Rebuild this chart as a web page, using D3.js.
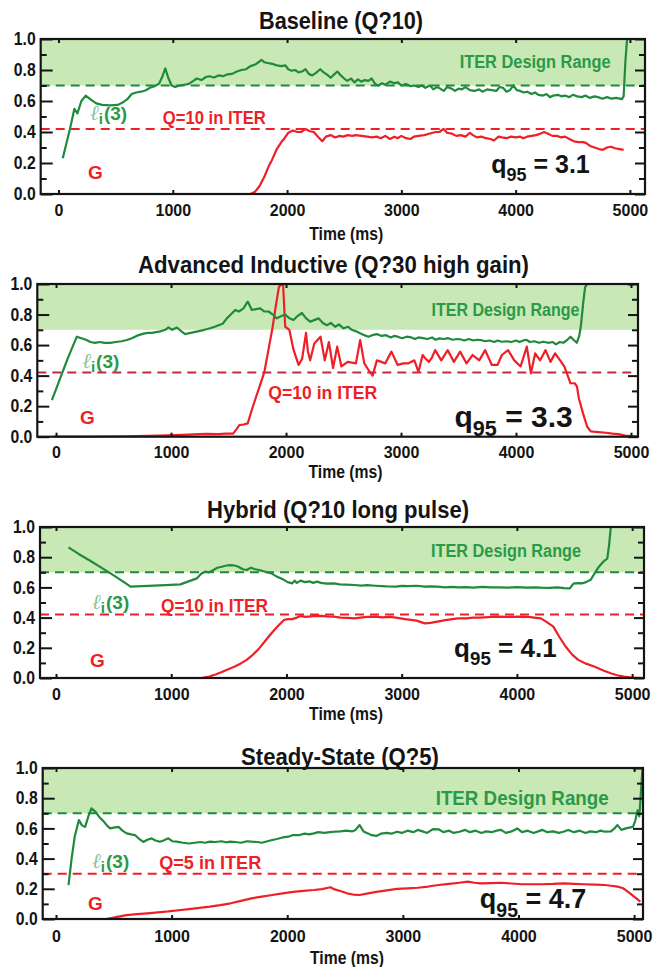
<!DOCTYPE html>
<html>
<head>
<meta charset="utf-8">
<script src="https://cdn.jsdelivr.net/npm/d3@7"></script>
<style>
  body { margin: 0; background: #fff; }
  svg { display: block; }
  text { font-family: "Liberation Sans", Arial, "Helvetica", sans-serif; font-weight: bold; }
</style>
</head>
<body>
<svg id="chart" width="654" height="967"></svg>
<script>
// ---- tick values ----
const timeTicks = [0, 1000, 2000, 3000, 4000, 5000];
const valueTicks = [0, 0.2, 0.4, 0.6, 0.8, 1.0];
const minorValueTicks = [0.1, 0.3, 0.5, 0.7, 0.9];

// ---- labels ----
const titles = [
  "Baseline (Q?10)",
  "Advanced Inductive (Q?30 high gain)",
  "Hybrid (Q?10 long pulse)",
  "Steady-State (Q?5)"
];
const q95Values = ["3.1", "3.3", "4.1", "4.7"];
const targetLabels = ["Q=10 in ITER", "Q=10 in ITER", "Q=10 in ITER", "Q=5 in ITER"];
const targetG = [0.42, 0.42, 0.42, 0.3];
const designRange = [0.7, 1.0];
const showDesignDash = [true, false, true, true];

// ---- Baseline: internal inductance li(3) and gain G vs time (ms) ----
const baselineLi = [[37,0.23],[100,0.42],[139,0.55],[165,0.52],[200,0.60],[238,0.635],[280,0.61],[330,0.585],[380,0.575],[450,0.572],[520,0.575],[560,0.59],[600,0.61],[640,0.645],[680,0.655],[720,0.66],[760,0.668],[800,0.685],[840,0.695],[880,0.712],[910,0.76],[934,0.81],[960,0.75],[990,0.70],[1020,0.69],[1060,0.70],[1100,0.705],[1140,0.71],[1180,0.73],[1210,0.745],[1250,0.735],[1290,0.755],[1320,0.76],[1360,0.752],[1400,0.765],[1440,0.76],[1480,0.772],[1520,0.775],[1560,0.79],[1600,0.80],[1640,0.805],[1680,0.825],[1720,0.835],[1750,0.85],[1777,0.865],[1800,0.85],[1832,0.845],[1870,0.84],[1910,0.83],[1950,0.825],[1985,0.83],[2010,0.805],[2040,0.795],[2070,0.80],[2100,0.785],[2130,0.79],[2161,0.805],[2190,0.775],[2220,0.765],[2250,0.78],[2290,0.805],[2320,0.785],[2350,0.77],[2381,0.75],[2410,0.77],[2440,0.79],[2470,0.765],[2500,0.745],[2527,0.73],[2560,0.745],[2590,0.72],[2620,0.74],[2650,0.725],[2680,0.735],[2711,0.73],[2740,0.745],[2770,0.71],[2800,0.70],[2830,0.715],[2860,0.705],[2900,0.725],[2940,0.715],[2970,0.72],[3000,0.70],[3040,0.71],[3080,0.695],[3110,0.70],[3150,0.69],[3180,0.70],[3210,0.685],[3250,0.70],[3280,0.675],[3310,0.69],[3340,0.68],[3370,0.665],[3400,0.69],[3440,0.68],[3470,0.665],[3500,0.68],[3530,0.675],[3560,0.69],[3600,0.67],[3640,0.665],[3680,0.675],[3710,0.66],[3750,0.675],[3790,0.67],[3830,0.665],[3860,0.69],[3890,0.685],[3920,0.66],[3950,0.67],[3980,0.70],[4010,0.67],[4040,0.665],[4070,0.655],[4100,0.66],[4140,0.645],[4170,0.655],[4200,0.64],[4240,0.635],[4270,0.645],[4300,0.625],[4330,0.635],[4370,0.64],[4400,0.63],[4430,0.635],[4470,0.625],[4500,0.64],[4540,0.63],[4580,0.625],[4610,0.635],[4650,0.62],[4690,0.63],[4720,0.625],[4760,0.615],[4800,0.625],[4840,0.615],[4880,0.62],[4930,0.612],[4945,0.63],[4960,0.85],[4975,1.0]];
const baselineG = [[73,0],[500,0],[1000,0],[1500,0],[1680,0],[1720,0.015],[1758,0.05],[1800,0.11],[1840,0.18],[1868,0.22],[1910,0.29],[1950,0.335],[1978,0.36],[2010,0.395],[2051,0.41],[2090,0.40],[2124,0.40],[2161,0.42],[2200,0.405],[2234,0.40],[2270,0.37],[2308,0.34],[2340,0.37],[2381,0.38],[2420,0.365],[2460,0.375],[2491,0.37],[2530,0.38],[2570,0.375],[2600,0.38],[2650,0.375],[2700,0.37],[2740,0.365],[2784,0.37],[2820,0.36],[2860,0.375],[2900,0.355],[2940,0.37],[2967,0.36],[3000,0.375],[3040,0.36],[3080,0.355],[3110,0.37],[3150,0.375],[3200,0.38],[3250,0.39],[3300,0.40],[3333,0.40],[3370,0.42],[3400,0.395],[3440,0.39],[3480,0.375],[3520,0.38],[3560,0.37],[3600,0.395],[3626,0.38],[3660,0.365],[3700,0.37],[3740,0.36],[3780,0.355],[3810,0.345],[3850,0.37],[3880,0.365],[3920,0.36],[3960,0.37],[4000,0.365],[4040,0.37],[4066,0.36],[4100,0.37],[4140,0.375],[4180,0.38],[4220,0.39],[4249,0.40],[4280,0.39],[4320,0.375],[4360,0.375],[4400,0.365],[4432,0.37],[4470,0.355],[4510,0.34],[4550,0.335],[4590,0.335],[4615,0.33],[4650,0.31],[4690,0.30],[4730,0.29],[4762,0.285],[4800,0.30],[4835,0.305],[4870,0.295],[4910,0.29],[4945,0.285]];

// ---- Advanced Inductive ----
const advancedLi = [[-36,0.24],[30,0.37],[100,0.51],[150,0.60],[181,0.655],[220,0.645],[260,0.635],[300,0.62],[340,0.615],[380,0.62],[420,0.615],[471,0.615],[520,0.62],[570,0.625],[616,0.633],[660,0.645],[700,0.66],[740,0.67],[761,0.675],[800,0.68],[833,0.68],[870,0.685],[906,0.69],[950,0.70],[978,0.716],[1010,0.70],[1051,0.715],[1090,0.69],[1123,0.672],[1170,0.68],[1232,0.69],[1290,0.70],[1340,0.71],[1380,0.72],[1413,0.73],[1450,0.74],[1485,0.775],[1520,0.80],[1558,0.83],[1590,0.82],[1630,0.84],[1667,0.885],[1703,0.83],[1740,0.835],[1775,0.84],[1810,0.82],[1848,0.82],[1885,0.80],[1920,0.775],[1960,0.79],[1993,0.80],[2030,0.775],[2065,0.764],[2100,0.79],[2138,0.81],[2175,0.775],[2210,0.753],[2250,0.765],[2283,0.775],[2320,0.745],[2355,0.73],[2390,0.745],[2427,0.72],[2460,0.735],[2500,0.71],[2540,0.72],[2572,0.70],[2610,0.69],[2645,0.677],[2680,0.665],[2717,0.655],[2750,0.665],[2790,0.672],[2830,0.66],[2870,0.665],[2910,0.65],[2940,0.66],[2971,0.655],[3010,0.645],[3050,0.655],[3090,0.65],[3120,0.64],[3152,0.65],[3190,0.645],[3230,0.64],[3270,0.65],[3300,0.635],[3333,0.644],[3370,0.64],[3410,0.645],[3450,0.635],[3490,0.64],[3514,0.638],[3550,0.63],[3590,0.64],[3630,0.63],[3660,0.635],[3695,0.633],[3730,0.625],[3770,0.63],[3810,0.62],[3840,0.63],[3877,0.622],[3920,0.625],[3960,0.62],[4000,0.63],[4030,0.62],[4058,0.629],[4090,0.635],[4120,0.62],[4160,0.625],[4200,0.615],[4239,0.622],[4280,0.615],[4320,0.62],[4348,0.605],[4380,0.62],[4410,0.615],[4440,0.63],[4474,0.655],[4500,0.635],[4529,0.615],[4550,0.66],[4565,0.73],[4585,0.88],[4601,0.98],[4620,1.0]];
const advancedG = [[-20,0],[300,0],[600,0.003],[900,0.008],[1100,0.012],[1300,0.018],[1413,0.017],[1480,0.02],[1540,0.02],[1570,0.05],[1594,0.076],[1630,0.08],[1667,0.087],[1700,0.17],[1739,0.26],[1775,0.34],[1812,0.425],[1850,0.58],[1884,0.72],[1910,0.85],[1938,0.98],[1957,1.0],[1975,0.99],[1993,0.72],[2029,0.70],[2065,0.57],[2109,0.47],[2140,0.51],[2174,0.68],[2190,0.56],[2210,0.50],[2246,0.61],[2270,0.63],[2300,0.655],[2337,0.50],[2373,0.62],[2409,0.45],[2445,0.59],[2482,0.46],[2536,0.49],[2608,0.48],[2645,0.633],[2681,0.48],[2717,0.437],[2753,0.40],[2790,0.50],[2830,0.49],[2862,0.48],[2917,0.557],[2971,0.47],[3020,0.48],[3061,0.48],[3116,0.50],[3152,0.425],[3188,0.535],[3215,0.51],[3243,0.49],[3270,0.52],[3297,0.567],[3350,0.50],[3406,0.567],[3460,0.49],[3514,0.557],[3570,0.48],[3623,0.535],[3680,0.50],[3732,0.567],[3790,0.47],[3840,0.47],[3877,0.535],[3931,0.567],[3985,0.50],[4040,0.46],[4094,0.59],[4130,0.415],[4167,0.546],[4210,0.50],[4257,0.567],[4300,0.49],[4340,0.546],[4384,0.50],[4420,0.46],[4438,0.425],[4474,0.35],[4510,0.35],[4530,0.33],[4547,0.25],[4583,0.153],[4619,0.065],[4650,0.035],[4674,0.033],[4720,0.03],[4782,0.026],[4840,0.02],[4891,0.017],[4950,0.008],[5000,0.004],[5054,0]];

// ---- Hybrid ----
const hybridLi = [[108,0.865],[200,0.82],[300,0.775],[400,0.728],[500,0.68],[580,0.64],[647,0.605],[750,0.608],[850,0.612],[950,0.615],[1079,0.62],[1150,0.64],[1223,0.66],[1260,0.69],[1295,0.704],[1330,0.70],[1367,0.715],[1400,0.73],[1439,0.737],[1480,0.745],[1511,0.748],[1550,0.745],[1583,0.737],[1620,0.72],[1655,0.715],[1691,0.73],[1730,0.72],[1763,0.715],[1810,0.705],[1870,0.693],[1920,0.67],[1978,0.65],[2010,0.635],[2050,0.627],[2070,0.645],[2090,0.63],[2122,0.645],[2160,0.635],[2200,0.64],[2230,0.63],[2266,0.638],[2300,0.63],[2350,0.625],[2410,0.627],[2460,0.62],[2520,0.618],[2590,0.616],[2650,0.612],[2700,0.615],[2770,0.611],[2830,0.608],[2890,0.606],[2950,0.605],[3000,0.61],[3050,0.608],[3129,0.611],[3200,0.605],[3250,0.607],[3309,0.605],[3380,0.60],[3440,0.603],[3489,0.60],[3560,0.602],[3620,0.598],[3700,0.603],[3770,0.60],[3849,0.60],[3920,0.598],[4000,0.602],[4080,0.598],[4150,0.60],[4208,0.598],[4280,0.597],[4350,0.60],[4410,0.595],[4460,0.594],[4480,0.615],[4496,0.627],[4540,0.628],[4568,0.627],[4600,0.635],[4640,0.65],[4680,0.70],[4712,0.737],[4750,0.77],[4784,0.79],[4800,0.88],[4815,1.0]];
const hybridG = [[108,0],[500,0],[1000,0],[1259,0],[1331,0.01],[1390,0.025],[1439,0.04],[1500,0.06],[1547,0.075],[1600,0.095],[1655,0.12],[1710,0.155],[1763,0.196],[1820,0.25],[1870,0.296],[1920,0.34],[1978,0.384],[2010,0.39],[2050,0.39],[2090,0.40],[2122,0.41],[2170,0.405],[2230,0.41],[2300,0.412],[2350,0.408],[2410,0.406],[2470,0.40],[2530,0.398],[2590,0.395],[2640,0.40],[2700,0.405],[2770,0.406],[2830,0.402],[2900,0.405],[2950,0.40],[3030,0.39],[3080,0.385],[3129,0.38],[3201,0.362],[3250,0.365],[3309,0.373],[3380,0.383],[3440,0.39],[3489,0.395],[3560,0.395],[3620,0.40],[3669,0.40],[3720,0.402],[3780,0.405],[3849,0.406],[3930,0.405],[4028,0.406],[4100,0.405],[4150,0.40],[4208,0.395],[4260,0.37],[4316,0.34],[4370,0.27],[4424,0.207],[4480,0.155],[4532,0.12],[4600,0.095],[4676,0.075],[4750,0.05],[4820,0.03],[4870,0.018],[4928,0.009],[5000,0.003],[5090,0]];

// ---- Steady-State ----
const steadyLi = [[108,0.225],[135,0.40],[162,0.545],[198,0.655],[225,0.62],[252,0.61],[280,0.68],[306,0.733],[342,0.71],[380,0.67],[414,0.645],[440,0.62],[468,0.60],[500,0.605],[540,0.61],[575,0.585],[611,0.567],[650,0.56],[683,0.556],[720,0.53],[755,0.51],[790,0.525],[827,0.534],[860,0.52],[899,0.512],[930,0.52],[971,0.534],[1005,0.515],[1043,0.512],[1100,0.505],[1151,0.50],[1200,0.505],[1250,0.51],[1290,0.505],[1331,0.512],[1380,0.51],[1430,0.515],[1470,0.508],[1511,0.512],[1550,0.51],[1600,0.505],[1650,0.515],[1691,0.512],[1740,0.51],[1780,0.505],[1830,0.515],[1870,0.523],[1910,0.53],[1960,0.54],[2010,0.545],[2050,0.556],[2100,0.555],[2150,0.565],[2190,0.56],[2230,0.567],[2270,0.575],[2320,0.57],[2370,0.575],[2410,0.578],[2460,0.58],[2510,0.585],[2560,0.58],[2590,0.59],[2626,0.622],[2660,0.58],[2698,0.567],[2730,0.555],[2770,0.55],[2810,0.565],[2860,0.57],[2900,0.565],[2950,0.578],[2990,0.57],[3040,0.585],[3090,0.575],[3129,0.59],[3170,0.58],[3210,0.57],[3260,0.595],[3309,0.594],[3350,0.575],[3400,0.585],[3440,0.57],[3489,0.578],[3540,0.59],[3580,0.575],[3630,0.585],[3680,0.57],[3720,0.58],[3770,0.575],[3810,0.585],[3849,0.59],[3890,0.57],[3940,0.58],[3990,0.60],[4030,0.575],[4080,0.585],[4130,0.57],[4170,0.58],[4208,0.59],[4250,0.575],[4300,0.58],[4350,0.57],[4388,0.578],[4430,0.59],[4480,0.575],[4530,0.585],[4580,0.57],[4620,0.58],[4670,0.575],[4710,0.585],[4748,0.578],[4800,0.58],[4830,0.60],[4856,0.622],[4890,0.59],[4928,0.60],[4960,0.605],[4990,0.61],[5010,0.65],[5030,0.72],[5045,0.68],[5060,0.85],[5072,0.99]];
const steadyG = [[108,0],[300,0],[432,0],[520,0.012],[611,0.026],[700,0.032],[791,0.0375],[880,0.044],[971,0.05],[1060,0.058],[1151,0.066],[1240,0.074],[1331,0.082],[1420,0.092],[1511,0.104],[1600,0.12],[1691,0.137],[1780,0.148],[1870,0.159],[1960,0.17],[2050,0.18],[2140,0.186],[2230,0.192],[2300,0.198],[2374,0.21],[2410,0.196],[2460,0.185],[2518,0.17],[2570,0.162],[2626,0.159],[2700,0.17],[2770,0.18],[2860,0.19],[2950,0.199],[3040,0.203],[3129,0.207],[3220,0.215],[3309,0.225],[3400,0.232],[3489,0.24],[3561,0.247],[3620,0.24],[3669,0.236],[3760,0.238],[3849,0.24],[3940,0.235],[4028,0.23],[4120,0.23],[4208,0.23],[4300,0.232],[4388,0.236],[4480,0.233],[4568,0.23],[4660,0.228],[4748,0.225],[4800,0.22],[4856,0.214],[4900,0.205],[4928,0.192],[4965,0.17],[5000,0.148],[5030,0.13],[5054,0.115]];

const liSeries = [baselineLi, advancedLi, hybridLi, steadyLi];
const gSeries = [baselineG, advancedG, hybridG, steadyG];

// ---- styling ----
const GREEN = "#1f8a3c";
const GREEN_TEXT = "#2a9a48";
const BAND = "#c8e8b5";
const RED = "#ee1f27";
const INK = "#141414";

// ---- panel layout (pixel frame, time domain, text placement) ----
const layout = [
  { left: 40.7, right: 645, top: 39, bottom: 194, t0: -156, t1: 5132,
    titleX: 259, titleY: 29, titleW: 164, tickPad: 10, xLabelY: 240,
    iter: [3510, 0.81, 151, 18], li: [275, 0.477], target: [913, 0.452, 103, 18],
    g: [257, 0.10], q: [3786, 0.133, 25], targetColor: RED },
  { left: 37.3, right: 638, top: 284, bottom: 436.7, t0: -163, t1: 5061,
    titleX: 138, titleY: 273, titleW: 391, tickPad: 9, xLabelY: 478,
    iter: [3265, 0.789, 148, 18], li: [227, 0.447], target: [1846, 0.244, 109, 19],
    g: [209, 0.083], q: [3465, 0.065, 30], targetColor: "#c22a40" },
  { left: 40, right: 644, top: 527, bottom: 678, t0: -139, t1: 5103,
    titleX: 207, titleY: 518, titleW: 262, tickPad: 10, xLabelY: 720,
    iter: [3255, 0.80, 150, 18], li: [313, 0.46], target: [912, 0.44, 107, 19],
    g: [295, 0.075], q: [3455, 0.141, 26], targetColor: RED },
  { left: 42.7, right: 643, top: 768, bottom: 919, t0: -115, t1: 5077,
    titleX: 241, titleY: 765, titleW: 198, tickPad: 11, xLabelY: 964,
    iter: [3284, 0.755, 173, 20], li: [312, 0.336], target: [893, 0.33, 102, 19],
    g: [276, 0.06], q: [3666, 0.07, 27], targetColor: RED }
];

const svg = d3.select("#chart");

layout.forEach((p, i) => {
  const x = d3.scaleLinear().domain([p.t0, p.t1]).range([p.left, p.right]);
  const y = d3.scaleLinear().domain([0, 1]).range([p.bottom, p.top]);
  const g = svg.append("g");

  const clipId = "clip" + i;
  g.append("clipPath").attr("id", clipId).append("rect")
    .attr("x", p.left).attr("y", p.top - 1)
    .attr("width", p.right - p.left).attr("height", p.bottom - p.top + 2);

  // ITER design range band
  g.append("rect")
    .attr("x", p.left).attr("width", p.right - p.left)
    .attr("y", y(designRange[1])).attr("height", y(designRange[0]) - y(designRange[1]))
    .attr("fill", BAND);

  // reference dashed lines
  if (showDesignDash[i]) {
    g.append("line")
      .attr("x1", p.left).attr("x2", p.right)
      .attr("y1", y(designRange[0])).attr("y2", y(designRange[0]))
      .attr("stroke", GREEN).attr("stroke-width", 2).attr("stroke-dasharray", "9,6");
  }
  g.append("line")
    .attr("x1", p.left).attr("x2", p.right)
    .attr("y1", y(targetG[i])).attr("y2", y(targetG[i]))
    .attr("stroke", p.targetColor).attr("stroke-width", 2).attr("stroke-dasharray", "9,6");

  // curves
  const line = d3.line().x(d => x(d[0])).y(d => y(d[1]));
  const curves = g.append("g").attr("clip-path", `url(#${clipId})`);
  curves.append("path").datum(gSeries[i])
    .attr("d", line).attr("fill", "none").attr("stroke", RED)
    .attr("stroke-width", 2.2).attr("stroke-linejoin", "round");
  curves.append("path").datum(liSeries[i])
    .attr("d", line).attr("fill", "none").attr("stroke", GREEN)
    .attr("stroke-width", 2.2).attr("stroke-linejoin", "round");

  // axes (inward ticks on all four sides)
  const styleAxis = sel => {
    sel.select(".domain").remove();
    sel.selectAll(".tick line").attr("stroke", INK).attr("stroke-width", 2);
    sel.selectAll(".tick text").attr("fill", INK)
      .style("font-family", '"Liberation Sans", Arial, sans-serif')
      .style("font-weight", "bold");
  };
  // condensed numerals: fixed advance per character
  const squeeze = (sel, perChar) => sel.selectAll(".tick text")
    .attr("textLength", function () { return this.textContent.replace(".", "").length * perChar + (this.textContent.includes(".") ? 3.5 : 0); })
    .attr("lengthAdjust", "spacingAndGlyphs");

  g.append("g").attr("transform", `translate(${p.left},0)`)
    .call(d3.axisLeft(y).tickValues(valueTicks).tickFormat(d3.format(".1f"))
      .tickSizeInner(-12).tickSizeOuter(0).tickPadding(5))
    .call(styleAxis)
    .call(s => s.selectAll(".tick text").style("font-size", "18px"))
    .call(s => squeeze(s, 9.2));
  g.append("g").attr("transform", `translate(${p.left},0)`)
    .call(d3.axisLeft(y).tickValues(minorValueTicks).tickFormat("")
      .tickSizeInner(-6).tickSizeOuter(0))
    .call(styleAxis);
  g.append("g").attr("transform", `translate(${p.right},0)`)
    .call(d3.axisRight(y).tickValues(valueTicks).tickFormat("")
      .tickSizeInner(-10).tickSizeOuter(0))
    .call(styleAxis);
  g.append("g").attr("transform", `translate(${p.right},0)`)
    .call(d3.axisRight(y).tickValues(minorValueTicks).tickFormat("")
      .tickSizeInner(-6).tickSizeOuter(0))
    .call(styleAxis);
  g.append("g").attr("transform", `translate(0,${p.bottom})`)
    .call(d3.axisBottom(x).tickValues(timeTicks).tickFormat(d3.format("d"))
      .tickSizeInner(-4).tickSizeOuter(0).tickPadding(p.tickPad))
    .call(styleAxis)
    .call(s => s.selectAll(".tick text").style("font-size", "17px"))
    .call(s => squeeze(s, 8.9));
  g.append("g").attr("transform", `translate(0,${p.top})`)
    .call(d3.axisTop(x).tickValues(timeTicks).tickFormat("")
      .tickSizeInner(-4).tickSizeOuter(0))
    .call(styleAxis);

  // frame
  g.append("rect")
    .attr("x", p.left).attr("y", p.top)
    .attr("width", p.right - p.left).attr("height", p.bottom - p.top)
    .attr("fill", "none").attr("stroke", INK).attr("stroke-width", 2.2);

  // title
  g.append("text")
    .attr("x", p.titleX).attr("y", p.titleY)
    .attr("textLength", p.titleW).attr("lengthAdjust", "spacingAndGlyphs")
    .style("font-size", "24px").attr("fill", INK)
    .text(titles[i]);

  // x-axis title
  const xMid = (x(0) + x(5000)) / 2 + 2;
  g.append("text")
    .attr("x", xMid - 37).attr("y", p.xLabelY)
    .attr("textLength", 74).attr("lengthAdjust", "spacingAndGlyphs")
    .style("font-size", "17.5px").attr("fill", INK)
    .text("Time (ms)");

  // band label
  g.append("text")
    .attr("x", x(p.iter[0])).attr("y", y(p.iter[1]))
    .attr("textLength", p.iter[2]).attr("lengthAdjust", "spacingAndGlyphs")
    .style("font-size", p.iter[3] + "px").attr("fill", GREEN_TEXT)
    .text("ITER Design Range");

  // li(3) label
  const li = g.append("text")
    .attr("x", x(p.li[0])).attr("y", y(p.li[1]))
    .style("font-size", "19px").attr("fill", GREEN_TEXT);
  li.append("tspan").text("\u2113")
    .style("font-family", '"DejaVu Serif", serif').style("font-style", "italic")
    .style("font-weight", "normal").style("font-size", "21px").attr("fill", "#8cc497");
  li.append("tspan").text("i").attr("dy", 4).style("font-size", "15px");
  li.append("tspan").text("(3)").attr("dy", -4).attr("dx", 1);

  // target gain label
  g.append("text")
    .attr("x", x(p.target[0])).attr("y", y(p.target[1]))
    .attr("textLength", p.target[2]).attr("lengthAdjust", "spacingAndGlyphs")
    .style("font-size", p.target[3] + "px").attr("fill", RED)
    .text(targetLabels[i]);

  // G label
  g.append("text")
    .attr("x", x(p.g[0])).attr("y", y(p.g[1]))
    .style("font-size", "19px").attr("fill", RED)
    .text("G");

  // q95 label
  const fs = p.q[2];
  const q = g.append("text")
    .attr("x", x(p.q[0])).attr("y", y(p.q[1]))
    .style("font-size", fs + "px").attr("fill", INK);
  q.append("tspan").text("q");
  q.append("tspan").text("95").attr("dy", fs * 0.32).style("font-size", (fs * 0.72) + "px");
  q.append("tspan").text(" = " + q95Values[i]).attr("dy", -fs * 0.32);
});
</script>
</body>
</html>
